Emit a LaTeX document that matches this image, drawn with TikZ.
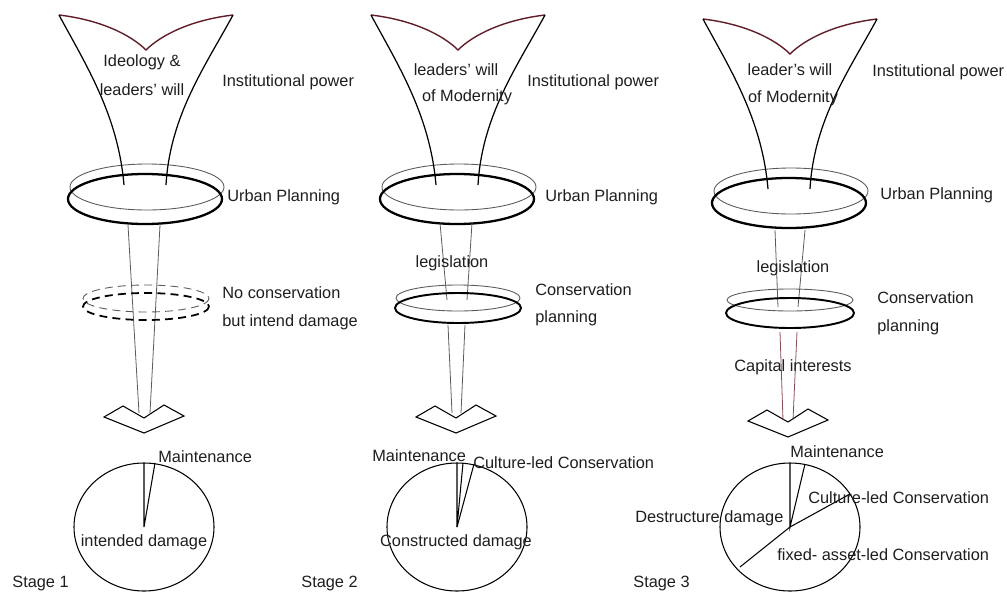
\documentclass[tikz,border=0pt]{standalone}
\usepackage{fontspec}
\setmainfont{Liberation Sans}
\definecolor{rimRed}{RGB}{95,30,40}
\definecolor{stemGray}{RGB}{90,90,90}
\definecolor{stemRed}{RGB}{135,75,85}
\definecolor{txtGray}{RGB}{30,30,30}
\newcommand*{\pieRx}{70}
\newcommand*{\pieRy}{64}

\begin{document}
\begin{tikzpicture}[x=0.02cm,y=-0.02cm,
    every node/.style={inner sep=0pt,text=txtGray,font=\fontsize{9.3}{11}\selectfont},
    ringthin/.style={stemGray,line width=0.5pt},
    ringthick/.style={black,line width=1.3pt},
    side/.style={black,line width=0.7pt},
    rim/.style={rimRed,line width=0.8pt},
    stem/.style={stemGray,line width=0.45pt},
    pie/.style={black,line width=0.6pt}]

\useasboundingbox (0,0) rectangle (1007,592);

% parts that every stage has
\foreach \cx/\dy/\px in {146/0/144, 458/0/457, 790/4/790} {
    \draw [ringthin] ({\cx+1},{187+\dy}) ellipse [x radius=77, y radius=23];
    \draw [ringthick] ({\cx-1},{199+\dy}) ellipse [x radius=77, y radius=25];
    \draw [rim] ({\cx-87},{15+\dy}) .. controls ({\cx-45},{20+\dy}) and ({\cx-15},{35+\dy}) .. ({\cx},{50+\dy})
        .. controls ({\cx+15},{35+\dy}) and ({\cx+45},{20+\dy}) .. ({\cx+87},{15+\dy});
    \draw [side] ({\cx-87},{15+\dy}) .. controls ({\cx-60},{65+\dy}) and ({\cx-28},{115+\dy}) .. ({\cx-22},{185+\dy});
    \draw [side] ({\cx+87},{15+\dy}) .. controls ({\cx+60},{65+\dy}) and ({\cx+24},{115+\dy}) .. ({\cx+20},{185+\dy});
    % arrow head
    \draw [line width=0.6pt] ({\cx-42},{417+\dy}) -- ({\cx-23},{406+\dy}) -- ({\cx-2},{418+\dy})
        -- ({\cx+18},{405+\dy}) -- ({\cx+38},{416+\dy}) -- ({\cx-2},{433+\dy}) -- cycle;
    % pie
    \draw [pie] (\px,527) ellipse [x radius=\pieRx, y radius=\pieRy];
}

% Stage 1
\draw [stem] (128,225) -- (139,413);
\draw [stem] (160,225) -- (150,413);
\draw [ringthin, dash pattern=on 4.5pt off 3pt] (146,298.5) ellipse [x radius=63, y radius=13.5];
\draw [ringthick, line width=1pt, dash pattern=on 4.5pt off 3pt] (146,306.5) ellipse [x radius=63, y radius=13.5];
\draw [pie] (144,463) -- (144,527) -- (155,463);

\node (s1Ideology) at (142,62) {Ideology \&};
\node (s1Will) at (142,90) {leaders' will};
\node [anchor=west] (s1Power) at (222,82) {Institutional power};
\node [anchor=west] (s1Urban) at (227,197) {Urban Planning};
\node [anchor=west] (s1NoCons) at (222,293) {No conservation};
\node [anchor=west] (s1Damage) at (222,322) {but intend damage};
\node [anchor=west] (s1Maint) at (158,457) {Maintenance};
\node (s1Intended) at (144,542) {intended damage};
\node [anchor=west] (s1Stage) at (12,583) {Stage 1};

% Stage 2
\draw [stem] (440,223) -- (447,300);
\draw [stem] (472,223) -- (467,300);
\draw [ringthin] (458,298) ellipse [x radius=62, y radius=13];
\draw [ringthick, line width=1.1pt] (458,308) ellipse [x radius=63, y radius=15];
\draw [stem] (448,325) -- (452,413);
\draw [stem] (465,325) -- (461,413);
\draw [pie] (457,463) -- (457,527) -- (463,463);
\draw [pie] (457,527) -- (474,464);

\node (s2Will) at (456,70) {leaders' will};
\node (s2Modern) at (467,97) {of Modernity};
\node [anchor=west] (s2Power) at (527,82) {Institutional power};
\node [anchor=west] (s2Urban) at (545,197) {Urban Planning};
\node (s2Legis) at (452,263) {legislation};
\node [anchor=west] (s2Cons) at (535,290) {Conservation};
\node [anchor=west] (s2Plan) at (535,318) {planning};
\node [anchor=west] (s2Maint) at (372,456) {Maintenance};
\node [anchor=west] (s2Culture) at (473,463) {Culture-led Conservation};
\node (s2Constructed) at (456,542) {Constructed damage};
\node [anchor=west] (s2Stage) at (301,583) {Stage 2};

% Stage 3
\draw [stem] (775,230) -- (778,307);
\draw [stem] (805,230) -- (798,307);
\draw [ringthin] (790,300) ellipse [x radius=63, y radius=11];
\draw [ringthick, line width=1.1pt] (790,313) ellipse [x radius=64, y radius=15];
\draw [stem, stemRed] (780,332) -- (783,420);
\draw [stem, stemRed] (797,332) -- (793,420);
\draw [pie] (790,463) -- (790,527) -- (805,464);
\draw [pie] (850,494) -- (790,527) -- (740,567);

\node (s3Will) at (790,70) {leader's will};
\node (s3Modern) at (793,98) {of Modernity};
\node [anchor=west] (s3Power) at (872,72) {Institutional power};
\node [anchor=west] (s3Urban) at (880,195) {Urban Planning};
\node (s3Legis) at (793,268) {legislation};
\node [anchor=west] (s3Cons) at (877,298) {Conservation};
\node [anchor=west] (s3Plan) at (877,327) {planning};
\node (s3Capital) at (793,367) {Capital interests};
\node [anchor=west] (s3Maint) at (790,452) {Maintenance};
\node [anchor=west] (s3Culture) at (808,498) {Culture-led Conservation};
\node [anchor=west] (s3Destruct) at (635,518) {Destructure damage};
\node [anchor=west] (s3Fixed) at (777,555) {fixed- asset-led Conservation};
\node [anchor=west] (s3Stage) at (633,583) {Stage 3};

\end{tikzpicture}
\end{document}
